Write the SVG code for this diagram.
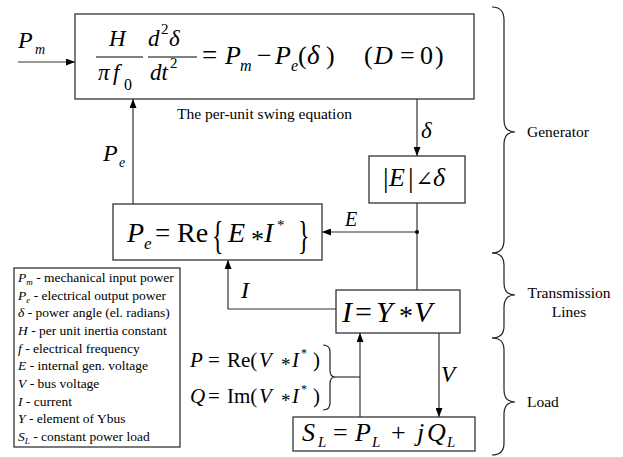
<svg xmlns="http://www.w3.org/2000/svg" width="623" height="457" viewBox="0 0 623 457">
<defs>
<marker id="ah" markerWidth="9" markerHeight="7" refX="9" refY="3.5" orient="auto" markerUnits="userSpaceOnUse">
<path d="M0,0 L9,3.5 L0,7 z" fill="#000"/>
</marker>
<style>
text{font-family:"Liberation Serif","DejaVu Serif",serif;fill:#000}
.i{font-style:italic}
.box{fill:#fff;stroke:#333;stroke-width:1.3}
.ln{fill:none;stroke:#333;stroke-width:1.2}
.ar{fill:none;stroke:#333;stroke-width:1.2;marker-end:url(#ah)}
.br{fill:none;stroke:#222;stroke-width:1.2}
.lab{font-size:15.5px}
.lg{font-size:13.5px}
.lg tspan.s{font-size:9px}
</style>
</defs>
<rect width="623" height="457" fill="#fff"/>

<g id="connectors">
<line class="ar" x1="18" y1="62" x2="75" y2="62"/>
<line class="ar" x1="417" y1="99" x2="417" y2="156"/>
<line class="ar" x1="133" y1="204" x2="133" y2="99"/>
<line class="ln" x1="417" y1="203" x2="417" y2="290"/>
<line class="ar" x1="417" y1="232" x2="322" y2="232"/>
<circle cx="417" cy="232" r="2" fill="#000"/>
<polyline class="ar" points="336,309 228,309 228,260"/>
<line class="ar" x1="360" y1="417" x2="360" y2="333"/>
<line class="ar" x1="439" y1="333" x2="439" y2="417"/>
<line class="ln" x1="335" y1="377" x2="360" y2="377"/>
<text class="i" x="18" y="48" font-size="24">P</text><text class="i" x="35" y="54" font-size="14">m</text>
<text class="i" x="103" y="161" font-size="24">P</text><text class="i" x="119" y="167" font-size="14">e</text>
<text class="i" x="421" y="138" font-size="23">δ</text>
<text class="i" x="345" y="226" font-size="20">E</text>
<text class="i" x="241" y="298" font-size="24">I</text>
<text class="i" x="441" y="382" font-size="23">V</text>
</g>

<g id="swing">
<rect class="box" x="75" y="14" width="399" height="85"/>
<text class="i" x="109" y="46" font-size="23">H</text>
<line x1="96" y1="57" x2="143" y2="57" stroke="#000" stroke-width="1.2"/>
<text class="i" x="98" y="80" font-size="23">π</text><text class="i" x="113" y="80" font-size="23">f</text><text x="124" y="90" font-size="16">0</text>
<text class="i" x="148" y="46" font-size="23">d</text><text x="161" y="34" font-size="15">2</text><text class="i" x="169" y="46" font-size="23">δ</text>
<line x1="148" y1="57" x2="197" y2="57" stroke="#000" stroke-width="1.2"/>
<text class="i" x="150" y="80" font-size="23">dt</text><text x="170" y="68" font-size="15">2</text>
<text x="202" y="64" font-size="27">=</text>
<text class="i" x="225" y="64" font-size="26">P</text><text class="i" x="240" y="71" font-size="16">m</text>
<text x="257" y="64" font-size="26">−</text>
<text class="i" x="275" y="64" font-size="26">P</text><text class="i" x="291" y="71" font-size="16">e</text>
<text x="298" y="64" font-size="26">(</text><text class="i" x="307" y="64" font-size="27">δ</text><text x="326" y="64" font-size="26">)</text>
<text x="364" y="64" font-size="26">(</text><text class="i" x="374" y="64" font-size="26">D</text><text x="400" y="64" font-size="26">=</text><text x="420" y="64" font-size="26">0</text><text x="435" y="64" font-size="26">)</text>
<text class="lab" x="177" y="119">The per-unit swing equation</text>
</g>

<g id="angle">
<rect class="box" x="369" y="156" width="96" height="47"/>
<text x="383" y="187" font-size="28">|</text><text class="i" x="389" y="186" font-size="26">E</text><text x="408" y="187" font-size="28">|</text><text x="415.5" y="186" font-size="21">∠</text><text class="i" x="433" y="186" font-size="26">δ</text>
</g>

<g id="power">
<rect class="box" x="113" y="204" width="209" height="56"/>
<text class="i" x="127" y="242" font-size="28">P</text><text class="i" x="144" y="249" font-size="17">e</text>
<text x="155" y="242" font-size="27">=</text>
<text x="177" y="242" font-size="28">Re</text>
<text transform="translate(212,249) scale(0.6,1)" font-size="40">{</text>
<text class="i" x="228" y="242" font-size="28">E</text>
<text x="251" y="248" font-size="26">*</text>
<text class="i" x="264" y="242" font-size="28">I</text>
<text x="277" y="230" font-size="15">*</text>
<text transform="translate(298,249) scale(0.6,1)" font-size="40">}</text>
</g>

<g id="network">
<rect class="box" x="336" y="290" width="124" height="43"/>
<text class="i" x="342" y="322" font-size="30">I</text>
<text x="355" y="322" font-size="30">=</text>
<text class="i" x="376" y="322" font-size="30">Y</text>
<text x="399" y="325" font-size="28">*</text>
<text class="i" x="414" y="322" font-size="30">V</text>
</g>

<g id="pq">
<text class="i" x="190" y="367" font-size="21">P</text><text x="208" y="367" font-size="21">=</text><text x="227" y="367" font-size="21">Re(</text><text class="i" x="259" y="367" font-size="21">V</text><text x="281" y="371" font-size="19">*</text><text class="i" x="292" y="367" font-size="21">I</text><text x="301" y="357" font-size="12">*</text><text x="313" y="367" font-size="21">)</text>
<text class="i" x="190" y="403" font-size="21">Q</text><text x="208" y="403" font-size="21">=</text><text x="227" y="403" font-size="21">Im(</text><text class="i" x="259" y="403" font-size="21">V</text><text x="281" y="407" font-size="19">*</text><text class="i" x="292" y="403" font-size="21">I</text><text x="301" y="393" font-size="12">*</text><text x="313" y="403" font-size="21">)</text>
<path class="br" d="M323,345 Q330,345 330,352 L330,370 Q330,377 335,377 Q330,377 330,384 L330,403 Q330,410 323,410"/>
</g>

<g id="load">
<rect class="box" x="293" y="417" width="182" height="34"/>
<text class="i" x="302" y="441" font-size="26">S</text><text class="i" x="318" y="447" font-size="15">L</text>
<text x="333" y="441" font-size="26">=</text>
<text class="i" x="355" y="441" font-size="26">P</text><text class="i" x="372" y="447" font-size="15">L</text>
<text x="391" y="441" font-size="26">+</text>
<text class="i" x="417" y="441" font-size="26">j</text><text class="i" x="427" y="441" font-size="26">Q</text><text class="i" x="447" y="447" font-size="15">L</text>
</g>

<g id="legend">
<rect x="14" y="268" width="166" height="179" fill="#fff" stroke="#222" stroke-width="1.2"/>
<text class="lg" x="18" y="282"><tspan class="i">P</tspan><tspan class="i s" dy="3">m</tspan><tspan dy="-3"> - mechanical input power</tspan></text>
<text class="lg" x="18" y="300"><tspan class="i">P</tspan><tspan class="i s" dy="3">e</tspan><tspan dy="-3"> - electrical output power</tspan></text>
<text class="lg" x="18" y="317"><tspan class="i">δ</tspan> - power angle (el. radians)</text>
<text class="lg" x="18" y="335"><tspan class="i">H</tspan> - per unit inertia constant</text>
<text class="lg" x="18" y="353"><tspan class="i">f</tspan> - electrical frequency</text>
<text class="lg" x="18" y="370"><tspan class="i">E</tspan> - internal gen. voltage</text>
<text class="lg" x="18" y="388"><tspan class="i">V</tspan> - bus voltage</text>
<text class="lg" x="18" y="406"><tspan class="i">I</tspan> - current</text>
<text class="lg" x="18" y="423"><tspan class="i">Y</tspan> - element of Ybus</text>
<text class="lg" x="18" y="441"><tspan class="i">S</tspan><tspan class="i s" dy="3">L</tspan><tspan dy="-3"> - constant power load</tspan></text>
</g>

<g id="groups">
<path class="br" d="M492,7 Q504,7 504,20 L504,120 Q504,132 515,132 Q504,132 504,144 L504,240 Q504,253 492,253"/>
<path class="br" d="M492,253 Q504,253 504,265 L504,283 Q504,295 515,295 Q504,295 504,307 L504,326 Q504,338 492,338"/>
<path class="br" d="M492,338 Q504,338 504,350 L504,390 Q504,402 515,402 Q504,402 504,414 L504,443 Q504,455 492,455"/>
<text class="lab" x="527" y="137">Generator</text>
<text class="lab" x="569" y="298" text-anchor="middle">Transmission</text>
<text class="lab" x="569" y="317" text-anchor="middle">Lines</text>
<text class="lab" x="527" y="407">Load</text>
</g>
</svg>
